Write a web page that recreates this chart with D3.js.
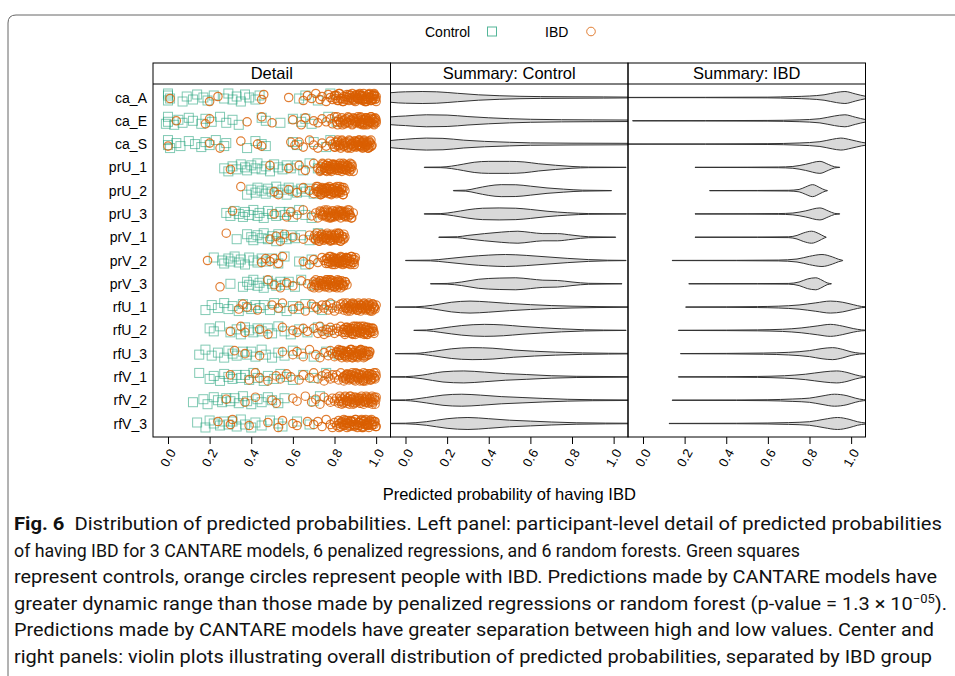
<!DOCTYPE html>
<html>
<head>
<meta charset="utf-8">
<script src="https://cdn.jsdelivr.net/npm/d3@7"></script>
<style>
  body { margin: 0; background: #fff; }
  svg { display: block; font-family: "Liberation Sans", Arial, sans-serif; }
</style>
</head>
<body>
<svg id="chart" width="955" height="676"></svg>
<script>
// Models, top to bottom
const models = ["ca_A", "ca_E", "ca_S", "prU_1", "prU_2", "prU_3", "prV_1", "prV_2", "prV_3",
  "rfU_1", "rfU_2", "rfU_3", "rfV_1", "rfV_2", "rfV_3"];
const panelTitles = ["Detail", "Summary: Control", "Summary: IBD"];
const xTicks = [0, 0.2, 0.4, 0.6, 0.8, 1.0];

// Predicted probabilities of controls (one list per model)
const controlPred = [
  [0.0, 0.0, 0.0, 0.01, 0.07, 0.09, 0.12, 0.14, 0.17, 0.19, 0.22, 0.27, 0.29, 0.31, 0.33, 0.35, 0.37, 0.39, 0.42, 0.44, 0.63, 0.66, 0.72, 0.78],
  [-0.01, 0.0, 0.0, 0.03, 0.05, 0.07, 0.1, 0.12, 0.16, 0.18, 0.21, 0.25, 0.28, 0.31, 0.34, 0.45, 0.47, 0.54, 0.6, 0.64, 0.66, 0.69, 0.77, 0.81],
  [0.0, 0.0, 0.01, 0.04, 0.06, 0.1, 0.13, 0.16, 0.18, 0.2, 0.23, 0.27, 0.28, 0.38, 0.42, 0.45, 0.47, 0.6, 0.62, 0.7, 0.76, 0.78],
  [0.27, 0.29, 0.31, 0.33, 0.35, 0.37, 0.38, 0.4, 0.42, 0.43, 0.45, 0.47, 0.49, 0.51, 0.53, 0.55, 0.57, 0.59, 0.62, 0.65, 0.68, 0.72],
  [0.38, 0.4, 0.42, 0.43, 0.45, 0.47, 0.48, 0.5, 0.52, 0.53, 0.55, 0.57, 0.58, 0.6, 0.62, 0.64, 0.66, 0.68, 0.7],
  [0.28, 0.3, 0.32, 0.34, 0.36, 0.37, 0.39, 0.41, 0.43, 0.44, 0.46, 0.48, 0.5, 0.52, 0.54, 0.56, 0.58, 0.6, 0.63, 0.66, 0.69],
  [0.33, 0.38, 0.4, 0.41, 0.43, 0.45, 0.46, 0.48, 0.5, 0.52, 0.53, 0.55, 0.57, 0.59, 0.61, 0.64, 0.68, 0.72],
  [0.22, 0.26, 0.27, 0.29, 0.3, 0.32, 0.34, 0.35, 0.37, 0.39, 0.41, 0.43, 0.45, 0.47, 0.5, 0.53, 0.56, 0.63, 0.66, 0.69],
  [0.3, 0.36, 0.38, 0.39, 0.41, 0.43, 0.44, 0.46, 0.48, 0.5, 0.52, 0.54, 0.56, 0.58, 0.61, 0.64, 0.7],
  [0.18, 0.21, 0.24, 0.27, 0.29, 0.31, 0.34, 0.36, 0.38, 0.4, 0.42, 0.44, 0.46, 0.49, 0.51, 0.54, 0.57, 0.6, 0.63, 0.66, 0.7, 0.74, 0.78],
  [0.2, 0.22, 0.25, 0.3, 0.33, 0.35, 0.37, 0.39, 0.41, 0.43, 0.45, 0.48, 0.5, 0.53, 0.56, 0.59, 0.63, 0.67, 0.72, 0.77],
  [0.15, 0.18, 0.21, 0.24, 0.27, 0.29, 0.31, 0.33, 0.36, 0.38, 0.4, 0.42, 0.45, 0.47, 0.5, 0.53, 0.56, 0.6, 0.64, 0.7, 0.76, 0.82],
  [0.15, 0.2, 0.22, 0.25, 0.27, 0.29, 0.31, 0.33, 0.35, 0.37, 0.39, 0.41, 0.43, 0.46, 0.48, 0.51, 0.54, 0.57, 0.6, 0.65, 0.7, 0.76],
  [0.12, 0.17, 0.19, 0.22, 0.24, 0.26, 0.28, 0.3, 0.32, 0.34, 0.36, 0.38, 0.4, 0.43, 0.45, 0.48, 0.5, 0.53, 0.56, 0.7, 0.73],
  [0.14, 0.18, 0.2, 0.22, 0.25, 0.27, 0.29, 0.31, 0.33, 0.35, 0.37, 0.4, 0.42, 0.45, 0.49, 0.53, 0.55, 0.62, 0.68]
];

// Predicted probabilities of people with IBD
const ibdPred = [
  [0.01, 0.2, 0.24, 0.45, 0.46, 0.58, 0.65, 0.67, 0.69, 0.71, 0.73, 0.74, 0.76, 0.77, 0.78, 0.79, 0.8, 0.805, 0.81, 0.82, 0.825, 0.83, 0.84, 0.845, 0.85, 0.86, 0.865, 0.87, 0.875, 0.88, 0.885, 0.89, 0.895, 0.9, 0.905, 0.91, 0.915, 0.92, 0.925, 0.93, 0.935, 0.94, 0.945, 0.95, 0.955, 0.96, 0.965, 0.97, 0.975, 0.98, 0.985, 0.99, 0.995, 1.0, 1.0, 0.99, 0.97, 0.95, 0.93, 0.91,
    0.803, 0.814, 0.821, 0.836, 0.842, 0.857, 0.863, 0.871, 0.884, 0.892, 0.901, 0.913, 0.922, 0.934, 0.941, 0.953, 0.962, 0.971, 0.983, 0.992, 0.998, 0.987, 0.976, 0.968, 0.957, 0.946, 0.938, 0.927, 0.918, 0.906],
  [0.04, 0.18, 0.2, 0.38, 0.45, 0.5, 0.6, 0.64, 0.66, 0.7, 0.72, 0.74, 0.76, 0.78, 0.79, 0.8, 0.81, 0.815, 0.82, 0.83, 0.835, 0.84, 0.85, 0.855, 0.86, 0.865, 0.87, 0.88, 0.885, 0.89, 0.895, 0.9, 0.905, 0.91, 0.915, 0.92, 0.925, 0.93, 0.935, 0.94, 0.945, 0.95, 0.955, 0.96, 0.965, 0.97, 0.975, 0.98, 0.985, 0.99, 0.995, 1.0, 1.0, 0.99, 0.97, 0.95, 0.93,
    0.812, 0.826, 0.838, 0.847, 0.858, 0.869, 0.877, 0.886, 0.893, 0.904, 0.912, 0.923, 0.931, 0.944, 0.952, 0.961, 0.973, 0.981, 0.993, 0.998, 0.987, 0.976, 0.966, 0.957, 0.946, 0.937, 0.926, 0.916],
  [0.0, 0.2, 0.25, 0.35, 0.43, 0.45, 0.59, 0.61, 0.63, 0.65, 0.68, 0.7, 0.72, 0.74, 0.76, 0.78, 0.79, 0.8, 0.805, 0.81, 0.815, 0.82, 0.825, 0.83, 0.835, 0.84, 0.845, 0.85, 0.855, 0.86, 0.865, 0.87, 0.875, 0.88, 0.885, 0.89, 0.895, 0.9, 0.905, 0.91, 0.915, 0.92, 0.925, 0.93, 0.935, 0.94, 0.945, 0.95, 0.955, 0.96, 0.965, 0.97, 0.975, 0.98, 0.96, 0.94, 0.92, 0.9, 0.88,
    0.802, 0.813, 0.824, 0.836, 0.843, 0.852, 0.864, 0.873, 0.882, 0.891, 0.903, 0.912, 0.923, 0.931, 0.942, 0.951, 0.963, 0.972, 0.978, 0.967, 0.957, 0.946, 0.936, 0.926, 0.917, 0.907],
  [0.3, 0.49, 0.58, 0.63, 0.66, 0.7, 0.72, 0.73, 0.735, 0.74, 0.745, 0.75, 0.755, 0.76, 0.765, 0.77, 0.775, 0.78, 0.785, 0.79, 0.795, 0.8, 0.805, 0.81, 0.815, 0.82, 0.825, 0.83, 0.835, 0.84, 0.845, 0.85, 0.855, 0.86, 0.865, 0.87, 0.875, 0.88, 0.885, 0.89, 0.8, 0.82, 0.84, 0.86, 0.78, 0.76,
    0.733, 0.742, 0.752, 0.762, 0.772, 0.783, 0.792, 0.802, 0.812, 0.823, 0.832, 0.842, 0.853, 0.862, 0.872, 0.883, 0.877, 0.857, 0.837, 0.817, 0.797, 0.777],
  [0.35, 0.51, 0.53, 0.58, 0.62, 0.65, 0.68, 0.7, 0.71, 0.715, 0.72, 0.725, 0.73, 0.735, 0.74, 0.745, 0.75, 0.755, 0.76, 0.765, 0.77, 0.775, 0.78, 0.785, 0.79, 0.795, 0.8, 0.805, 0.81, 0.815, 0.82, 0.825, 0.83, 0.835, 0.84, 0.845, 0.85, 0.8, 0.78, 0.82, 0.76, 0.74,
    0.712, 0.722, 0.732, 0.742, 0.752, 0.762, 0.772, 0.782, 0.792, 0.802, 0.812, 0.822, 0.832, 0.842, 0.837, 0.817, 0.797, 0.777, 0.757, 0.737],
  [0.31, 0.51, 0.57, 0.59, 0.62, 0.65, 0.69, 0.71, 0.72, 0.73, 0.735, 0.74, 0.745, 0.75, 0.755, 0.76, 0.765, 0.77, 0.775, 0.78, 0.785, 0.79, 0.795, 0.8, 0.805, 0.81, 0.815, 0.82, 0.825, 0.83, 0.835, 0.84, 0.845, 0.85, 0.855, 0.86, 0.865, 0.87, 0.875, 0.88, 0.89, 0.8, 0.82, 0.84, 0.78,
    0.733, 0.743, 0.753, 0.763, 0.773, 0.783, 0.793, 0.803, 0.813, 0.823, 0.833, 0.843, 0.853, 0.863, 0.873, 0.883, 0.868, 0.848, 0.828, 0.808, 0.788, 0.768],
  [0.28, 0.49, 0.52, 0.54, 0.56, 0.6, 0.65, 0.68, 0.7, 0.705, 0.71, 0.715, 0.72, 0.725, 0.73, 0.735, 0.74, 0.745, 0.75, 0.755, 0.76, 0.765, 0.77, 0.775, 0.78, 0.785, 0.79, 0.795, 0.8, 0.805, 0.81, 0.815, 0.82, 0.825, 0.83, 0.835, 0.84, 0.845, 0.85, 0.78, 0.8, 0.76, 0.82,
    0.708, 0.718, 0.728, 0.738, 0.748, 0.758, 0.768, 0.778, 0.788, 0.798, 0.808, 0.818, 0.828, 0.838, 0.845, 0.823, 0.803, 0.783, 0.763, 0.743],
  [0.19, 0.45, 0.47, 0.49, 0.51, 0.53, 0.55, 0.65, 0.68, 0.7, 0.72, 0.74, 0.75, 0.76, 0.765, 0.77, 0.775, 0.78, 0.785, 0.79, 0.795, 0.8, 0.805, 0.81, 0.815, 0.82, 0.825, 0.83, 0.835, 0.84, 0.845, 0.85, 0.855, 0.86, 0.865, 0.87, 0.875, 0.88, 0.885, 0.89, 0.895, 0.9, 0.82, 0.84, 0.86, 0.8,
    0.762, 0.772, 0.782, 0.792, 0.802, 0.812, 0.822, 0.832, 0.842, 0.852, 0.862, 0.872, 0.882, 0.892, 0.897, 0.877, 0.857, 0.837, 0.817, 0.797],
  [0.25, 0.48, 0.51, 0.54, 0.57, 0.6, 0.64, 0.67, 0.69, 0.7, 0.705, 0.71, 0.715, 0.72, 0.725, 0.73, 0.735, 0.74, 0.745, 0.75, 0.755, 0.76, 0.765, 0.77, 0.775, 0.78, 0.785, 0.79, 0.795, 0.8, 0.805, 0.81, 0.815, 0.82, 0.825, 0.83, 0.835, 0.84, 0.845, 0.85, 0.86, 0.78, 0.8, 0.76, 0.82,
    0.702, 0.712, 0.722, 0.732, 0.742, 0.752, 0.762, 0.772, 0.782, 0.792, 0.802, 0.812, 0.822, 0.832, 0.842, 0.852, 0.837, 0.817, 0.797, 0.777, 0.757],
  [0.34, 0.36, 0.38, 0.43, 0.5, 0.53, 0.55, 0.6, 0.63, 0.66, 0.69, 0.71, 0.72, 0.74, 0.75, 0.76, 0.77, 0.78, 0.79, 0.8, 0.81, 0.82, 0.83, 0.84, 0.845, 0.85, 0.855, 0.86, 0.865, 0.87, 0.875, 0.88, 0.885, 0.89, 0.895, 0.9, 0.905, 0.91, 0.915, 0.92, 0.925, 0.93, 0.935, 0.94, 0.945, 0.95, 0.955, 0.96, 0.965, 0.97, 0.975, 0.98, 0.985, 0.99, 0.995, 1.0, 0.92, 0.95, 0.97,
    0.842, 0.852, 0.862, 0.872, 0.882, 0.892, 0.902, 0.912, 0.922, 0.932, 0.942, 0.952, 0.962, 0.972, 0.982, 0.992, 0.987, 0.967, 0.947, 0.927, 0.907, 0.887, 0.867],
  [0.3, 0.35, 0.37, 0.44, 0.48, 0.55, 0.6, 0.62, 0.65, 0.67, 0.7, 0.72, 0.73, 0.74, 0.75, 0.76, 0.77, 0.78, 0.79, 0.8, 0.81, 0.82, 0.83, 0.84, 0.845, 0.85, 0.855, 0.86, 0.865, 0.87, 0.875, 0.88, 0.885, 0.89, 0.895, 0.9, 0.905, 0.91, 0.915, 0.92, 0.925, 0.93, 0.935, 0.94, 0.945, 0.95, 0.955, 0.96, 0.965, 0.97, 0.975, 0.98, 0.985, 0.99, 0.9, 0.93, 0.96,
    0.842, 0.852, 0.862, 0.872, 0.882, 0.892, 0.902, 0.912, 0.922, 0.932, 0.942, 0.952, 0.962, 0.972, 0.982, 0.988, 0.967, 0.947, 0.927, 0.907, 0.887, 0.867],
  [0.32, 0.37, 0.44, 0.55, 0.6, 0.62, 0.65, 0.68, 0.71, 0.73, 0.75, 0.77, 0.78, 0.79, 0.8, 0.81, 0.815, 0.82, 0.825, 0.83, 0.835, 0.84, 0.845, 0.85, 0.855, 0.86, 0.865, 0.87, 0.875, 0.88, 0.885, 0.89, 0.895, 0.9, 0.905, 0.91, 0.915, 0.92, 0.925, 0.93, 0.935, 0.94, 0.945, 0.95, 0.955, 0.96, 0.965, 0.97, 0.9, 0.88, 0.92, 0.86,
    0.812, 0.822, 0.832, 0.842, 0.852, 0.862, 0.872, 0.882, 0.892, 0.902, 0.912, 0.922, 0.932, 0.942, 0.952, 0.962, 0.967, 0.947, 0.927, 0.907, 0.887, 0.867, 0.847, 0.827],
  [0.3, 0.39, 0.42, 0.44, 0.48, 0.52, 0.54, 0.57, 0.59, 0.63, 0.65, 0.68, 0.7, 0.72, 0.74, 0.75, 0.76, 0.77, 0.78, 0.79, 0.8, 0.81, 0.82, 0.83, 0.84, 0.845, 0.85, 0.855, 0.86, 0.865, 0.87, 0.875, 0.88, 0.885, 0.89, 0.895, 0.9, 0.905, 0.91, 0.915, 0.92, 0.925, 0.93, 0.935, 0.94, 0.945, 0.95, 0.955, 0.96, 0.965, 0.97, 0.975, 0.98, 0.985, 0.99, 0.995, 1.0, 0.94, 0.97,
    0.842, 0.852, 0.862, 0.872, 0.882, 0.892, 0.902, 0.912, 0.922, 0.932, 0.942, 0.952, 0.962, 0.972, 0.982, 0.992, 0.998, 0.977, 0.957, 0.937, 0.917, 0.897, 0.877, 0.857],
  [0.28, 0.37, 0.42, 0.5, 0.52, 0.6, 0.62, 0.66, 0.69, 0.71, 0.73, 0.75, 0.77, 0.78, 0.79, 0.8, 0.81, 0.82, 0.825, 0.83, 0.835, 0.84, 0.845, 0.85, 0.855, 0.86, 0.865, 0.87, 0.875, 0.88, 0.885, 0.89, 0.895, 0.9, 0.905, 0.91, 0.915, 0.92, 0.925, 0.93, 0.935, 0.94, 0.945, 0.95, 0.955, 0.96, 0.965, 0.97, 0.975, 0.98, 0.985, 0.99, 0.995, 1.0, 0.92, 0.95, 0.98,
    0.822, 0.832, 0.842, 0.852, 0.862, 0.872, 0.882, 0.892, 0.902, 0.912, 0.922, 0.932, 0.942, 0.952, 0.962, 0.972, 0.982, 0.992, 0.998, 0.977, 0.957, 0.937, 0.917, 0.897, 0.877, 0.857],
  [0.24, 0.3, 0.31, 0.39, 0.48, 0.53, 0.55, 0.6, 0.62, 0.67, 0.7, 0.72, 0.74, 0.76, 0.78, 0.79, 0.8, 0.81, 0.82, 0.825, 0.83, 0.835, 0.84, 0.845, 0.85, 0.855, 0.86, 0.865, 0.87, 0.875, 0.88, 0.885, 0.89, 0.895, 0.9, 0.905, 0.91, 0.915, 0.92, 0.925, 0.93, 0.935, 0.94, 0.945, 0.95, 0.955, 0.96, 0.965, 0.97, 0.975, 0.98, 0.985, 0.99, 0.995, 1.0, 0.93, 0.96,
    0.822, 0.832, 0.842, 0.852, 0.862, 0.872, 0.882, 0.892, 0.902, 0.912, 0.922, 0.932, 0.942, 0.952, 0.962, 0.972, 0.982, 0.992, 0.998, 0.977, 0.957, 0.937, 0.917, 0.897, 0.877, 0.857]
];

// Violin outlines: [probability, relative density]
const controlViolin = [
  [[-0.1, 0.6], [-0.07, 0.8], [0.0, 0.95], [0.08, 1.0], [0.15, 0.95], [0.25, 0.7], [0.35, 0.45], [0.45, 0.3], [0.55, 0.2], [0.65, 0.15], [0.8, 0.12], [0.95, 0.1], [1.1, 0.06]],
  [[-0.1, 0.5], [-0.07, 0.65], [0.0, 0.8], [0.1, 1.0], [0.2, 0.95], [0.3, 0.7], [0.4, 0.5], [0.5, 0.35], [0.6, 0.25], [0.75, 0.18], [0.9, 0.15], [1.1, 0.12]],
  [[-0.1, 0.45], [-0.07, 0.6], [0.0, 0.8], [0.1, 1.0], [0.18, 0.95], [0.28, 0.65], [0.38, 0.45], [0.5, 0.3], [0.6, 0.2], [0.8, 0.15], [1.1, 0.12]],
  [[0.09, 0.03], [0.17, 0.05], [0.22, 0.2], [0.28, 0.55], [0.33, 0.85], [0.4, 1.0], [0.5, 1.0], [0.57, 0.9], [0.64, 0.6], [0.72, 0.35], [0.8, 0.15], [0.88, 0.05], [1.06, 0.02]],
  [[0.23, 0.03], [0.29, 0.08], [0.34, 0.4], [0.4, 0.8], [0.46, 1.0], [0.53, 0.98], [0.6, 0.75], [0.68, 0.45], [0.76, 0.25], [0.85, 0.08], [0.99, 0.02]],
  [[0.09, 0.03], [0.17, 0.06], [0.23, 0.3], [0.3, 0.7], [0.37, 0.95], [0.45, 1.0], [0.53, 0.95], [0.6, 0.75], [0.68, 0.45], [0.78, 0.2], [0.88, 0.06], [1.06, 0.02]],
  [[0.16, 0.03], [0.25, 0.08], [0.3, 0.3], [0.38, 0.6], [0.46, 0.85], [0.54, 1.0], [0.6, 0.8], [0.66, 0.6], [0.73, 0.6], [0.8, 0.35], [0.88, 0.08], [1.01, 0.02]],
  [[0.0, 0.02], [0.12, 0.06], [0.2, 0.3], [0.3, 0.65], [0.4, 0.9], [0.48, 1.0], [0.58, 0.85], [0.68, 0.6], [0.78, 0.35], [0.88, 0.15], [0.97, 0.05], [1.06, 0.02]],
  [[0.12, 0.02], [0.2, 0.06], [0.27, 0.3], [0.35, 0.75], [0.45, 0.95], [0.53, 1.0], [0.6, 0.8], [0.66, 0.6], [0.73, 0.55], [0.8, 0.3], [0.88, 0.08], [1.04, 0.02]],
  [[-0.05, 0.02], [0.05, 0.05], [0.13, 0.3], [0.22, 0.8], [0.31, 1.0], [0.4, 0.85], [0.5, 0.6], [0.6, 0.4], [0.7, 0.25], [0.8, 0.15], [0.92, 0.08], [1.1, 0.03]],
  [[0.04, 0.02], [0.1, 0.06], [0.17, 0.35], [0.27, 0.8], [0.38, 1.0], [0.47, 0.9], [0.56, 0.65], [0.65, 0.45], [0.75, 0.25], [0.86, 0.1], [0.95, 0.05], [1.06, 0.02]],
  [[-0.05, 0.02], [0.05, 0.05], [0.13, 0.35], [0.22, 0.8], [0.32, 1.0], [0.42, 0.9], [0.52, 0.6], [0.62, 0.4], [0.72, 0.25], [0.85, 0.12], [1.1, 0.04]],
  [[-0.1, 0.02], [0.0, 0.05], [0.08, 0.3], [0.18, 0.85], [0.28, 1.0], [0.38, 0.8], [0.48, 0.55], [0.58, 0.4], [0.7, 0.2], [0.82, 0.1], [1.1, 0.04]],
  [[-0.1, 0.02], [0.0, 0.06], [0.1, 0.45], [0.18, 0.85], [0.27, 1.0], [0.36, 0.85], [0.46, 0.6], [0.56, 0.45], [0.66, 0.3], [0.78, 0.15], [0.9, 0.08], [1.1, 0.04]],
  [[-0.1, 0.02], [0.0, 0.05], [0.1, 0.3], [0.2, 0.8], [0.3, 1.0], [0.4, 0.8], [0.5, 0.55], [0.6, 0.4], [0.7, 0.25], [0.82, 0.12], [1.1, 0.04]]
];

const ibdViolin = [
  [[-0.1, 0.02], [0.3, 0.03], [0.6, 0.06], [0.72, 0.15], [0.8, 0.25], [0.87, 0.45], [0.93, 0.85], [0.97, 1.0], [1.02, 0.6], [1.07, 0.2], [1.12, 0.05]],
  [[-0.05, 0.02], [0.3, 0.03], [0.6, 0.06], [0.75, 0.15], [0.85, 0.35], [0.92, 0.8], [0.97, 1.0], [1.02, 0.6], [1.07, 0.2], [1.12, 0.05]],
  [[-0.1, 0.02], [0.3, 0.03], [0.6, 0.07], [0.75, 0.18], [0.85, 0.4], [0.91, 0.8], [0.95, 1.0], [1.0, 0.7], [1.05, 0.3], [1.1, 0.05]],
  [[0.25, 0.02], [0.5, 0.03], [0.65, 0.06], [0.72, 0.15], [0.78, 0.5], [0.85, 1.0], [0.89, 0.5], [0.92, 0.1], [0.945, 0.02]],
  [[0.32, 0.02], [0.55, 0.03], [0.7, 0.06], [0.75, 0.2], [0.78, 0.6], [0.815, 1.0], [0.85, 0.5], [0.875, 0.1], [0.886, 0.02]],
  [[0.25, 0.02], [0.5, 0.03], [0.65, 0.06], [0.72, 0.15], [0.78, 0.5], [0.85, 1.0], [0.89, 0.5], [0.92, 0.1], [0.945, 0.02]],
  [[0.25, 0.02], [0.55, 0.03], [0.7, 0.07], [0.74, 0.3], [0.77, 0.7], [0.81, 1.0], [0.845, 0.6], [0.87, 0.15], [0.88, 0.02]],
  [[0.14, 0.02], [0.45, 0.03], [0.65, 0.07], [0.74, 0.25], [0.8, 0.7], [0.86, 1.0], [0.91, 0.6], [0.94, 0.2], [0.96, 0.02]],
  [[0.22, 0.02], [0.55, 0.03], [0.7, 0.06], [0.75, 0.3], [0.79, 0.8], [0.83, 1.0], [0.86, 0.6], [0.885, 0.15], [0.905, 0.02]],
  [[0.205, 0.02], [0.4, 0.04], [0.55, 0.08], [0.65, 0.15], [0.75, 0.35], [0.83, 0.7], [0.9, 1.0], [0.96, 0.8], [1.01, 0.4], [1.05, 0.1], [1.08, 0.02]],
  [[0.17, 0.02], [0.4, 0.04], [0.55, 0.08], [0.67, 0.18], [0.76, 0.4], [0.84, 0.75], [0.9, 1.0], [0.96, 0.7], [1.01, 0.3], [1.05, 0.08], [1.08, 0.02]],
  [[0.18, 0.02], [0.4, 0.04], [0.58, 0.1], [0.7, 0.22], [0.8, 0.5], [0.86, 0.85], [0.91, 1.0], [0.96, 0.7], [1.0, 0.3], [1.04, 0.08], [1.07, 0.02]],
  [[0.17, 0.02], [0.4, 0.04], [0.55, 0.08], [0.68, 0.2], [0.78, 0.45], [0.87, 0.85], [0.93, 1.0], [0.98, 0.75], [1.02, 0.35], [1.06, 0.08], [1.1, 0.02]],
  [[0.14, 0.02], [0.45, 0.04], [0.6, 0.08], [0.72, 0.2], [0.8, 0.35], [0.86, 0.7], [0.92, 1.0], [0.98, 0.75], [1.02, 0.35], [1.06, 0.08], [1.1, 0.02]],
  [[0.125, 0.02], [0.45, 0.04], [0.6, 0.08], [0.7, 0.15], [0.8, 0.3], [0.87, 0.7], [0.935, 1.0], [0.99, 0.7], [1.03, 0.3], [1.07, 0.08], [1.1, 0.02]]
];

const captionLines = [
  "Distribution of predicted probabilities. Left panel: participant-level detail of predicted probabilities",
  "of having IBD for 3 CANTARE models, 6 penalized regressions, and 6 random forests. Green squares",
  "represent controls, orange circles represent people with IBD. Predictions made by CANTARE models have",
  "greater dynamic range than those made by penalized regressions or random forest (p-value = 1.3 × 10",
  "Predictions made by CANTARE models have greater separation between high and low values. Center and",
  "right panels: violin plots illustrating overall distribution of predicted probabilities, separated by IBD group"
];

// vertical jitter pattern for the detail panel (px)
const jitter = [-2, 3, -4, 1, 4, -1, 2, -3, 0, 3, -2, 1, -4, 2, -1, 4, -3, 0, 2, -2, 1];

const green = "#1b9e77", orange = "#d95f02";
const svg = d3.select("#chart");

// outer figure frame
svg.append("path")
  .attr("d", "M8,680 V23 Q8,15 16,15 H960")
  .attr("fill", "none").attr("stroke", "#666").attr("stroke-width", 1);

// layout of the three panels
const plotLeft = 153, panelW = 237.5, stripTop = 63, plotTop = 84, plotBottom = 437;
const y = d3.scalePoint().domain(models).range([plotTop, plotBottom]).padding(0.58);
const xs = panelTitles.map((t, i) =>
  d3.scaleLinear().domain([-0.072, 1.069]).range([plotLeft + i * panelW, plotLeft + (i + 1) * panelW]));
const vHalf = 6;

const defs = svg.append("defs");
xs.forEach((x, i) => {
  defs.append("clipPath").attr("id", "clip" + i)
    .append("rect")
    .attr("x", x.range()[0]).attr("y", plotTop)
    .attr("width", panelW).attr("height", plotBottom - plotTop);
});

// Detail: jittered points
const detail = svg.append("g").attr("clip-path", "url(#clip0)");
models.forEach((m, r) => {
  detail.append("g").selectAll("rect")
    .data(controlPred[r])
    .join("rect")
    .attr("x", d => xs[0](d) - 4.5)
    .attr("y", (d, i) => y(m) + jitter[(i + r) % jitter.length] - 4.5)
    .attr("width", 9).attr("height", 9)
    .attr("fill", "none").attr("stroke", green).attr("stroke-opacity", 0.55);
  detail.append("g").selectAll("circle")
    .data(ibdPred[r])
    .join("circle")
    .attr("cx", d => xs[0](d))
    .attr("cy", (d, i) => y(m) + jitter[(i + r * 5 + 3) % jitter.length])
    .attr("r", 4.2)
    .attr("fill", "none").attr("stroke", orange).attr("stroke-opacity", 0.8)
    .attr("stroke-width", 1.2);
});

// Summary panels: violins
[controlViolin, ibdViolin].forEach((profiles, k) => {
  const x = xs[k + 1];
  const g = svg.append("g").attr("clip-path", `url(#clip${k + 1})`);
  models.forEach((m, r) => {
    const area = d3.area()
      .curve(d3.curveMonotoneX)
      .x(d => x(d[0]))
      .y0(d => y(m) - d[1] * vHalf)
      .y1(d => y(m) + d[1] * vHalf);
    g.append("path")
      .attr("d", area(profiles[r]))
      .attr("fill", "#d9d9d9")
      .attr("stroke", "#333")
      .attr("stroke-width", 1);
  });
});

// panel borders, strips, axes
xs.forEach((x, i) => {
  const x0 = x.range()[0];
  svg.append("rect")
    .attr("x", x0).attr("y", stripTop).attr("width", panelW).attr("height", plotBottom - stripTop)
    .attr("fill", "none").attr("stroke", "#000");
  svg.append("line")
    .attr("x1", x0).attr("x2", x0 + panelW).attr("y1", plotTop).attr("y2", plotTop)
    .attr("stroke", "#000");
  svg.append("text")
    .attr("x", x0 + panelW / 2).attr("y", plotTop - 5)
    .attr("text-anchor", "middle").attr("font-size", 16.5)
    .text(panelTitles[i]);

  const ax = svg.append("g")
    .attr("transform", `translate(0,${plotBottom})`)
    .call(d3.axisBottom(x).tickValues(xTicks).tickFormat(d3.format(".1f")).tickSize(7).tickSizeOuter(0));
  ax.select(".domain").remove();
  ax.selectAll("line").attr("stroke", "#000");
  ax.selectAll("text")
    .attr("font-size", 13).attr("font-family", "Liberation Sans, Arial, sans-serif")
    .attr("fill", "#000")
    .attr("text-anchor", "end")
    .attr("y", 0).attr("dy", "0.35em")
    .attr("transform", "translate(4,13) rotate(-60)");
});

// y labels
svg.append("g").selectAll("text")
  .data(models)
  .join("text")
  .attr("x", 147).attr("y", d => y(d))
  .attr("dy", "0.36em").attr("text-anchor", "end").attr("font-size", 14)
  .text(d => d);

// x title
svg.append("text")
  .attr("x", plotLeft + 1.5 * panelW).attr("y", 500)
  .attr("text-anchor", "middle").attr("font-size", 16.5)
  .text("Predicted probability of having IBD");

// legend
const lg = svg.append("g");
lg.append("text").attr("x", 425).attr("y", 36.5).attr("font-size", 14).text("Control");
lg.append("rect").attr("x", 487.5).attr("y", 27).attr("width", 9).attr("height", 9)
  .attr("fill", "none").attr("stroke", green).attr("stroke-opacity", 0.75);
lg.append("text").attr("x", 545).attr("y", 36.5).attr("font-size", 14).text("IBD");
lg.append("circle").attr("cx", 591).attr("cy", 31.5).attr("r", 4.3)
  .attr("fill", "none").attr("stroke", orange).attr("stroke-opacity", 0.8);

// caption
const capEnds = [942, 800, 937, 947, 934, 932];
const cap = svg.append("g")
  .attr("font-family", "Roboto, 'Liberation Sans', sans-serif")
  .attr("font-size", 18.5).attr("fill", "#111");
captionLines.forEach((line, i) => {
  const t = cap.append("text")
    .attr("x", 14).attr("y", 530 + i * 26.5)
    .attr("textLength", capEnds[i] - 14)
    .attr("lengthAdjust", "spacingAndGlyphs");
  if (i === 0) {
    t.append("tspan").attr("font-weight", "bold").text("Fig. 6");
    t.append("tspan").text("\u00a0\u00a0" + line);
  } else if (i === 3) {
    t.append("tspan").text(line);
    t.append("tspan").attr("font-size", 12).attr("dy", -7).text("\u221205");
    t.append("tspan").attr("dy", 7).text(").");
  } else {
    t.text(line);
  }
});
</script>
</body>
</html>
